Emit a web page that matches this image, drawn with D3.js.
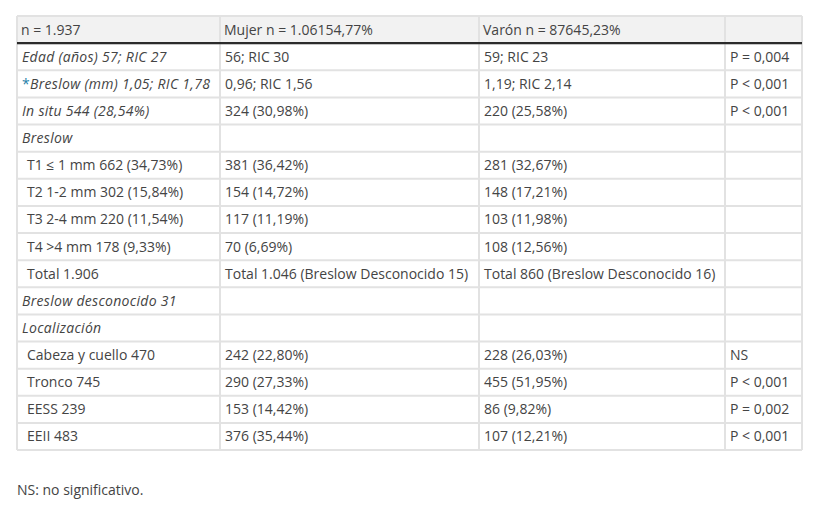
<!DOCTYPE html>
<html><head><meta charset="utf-8">
<script src="https://cdn.jsdelivr.net/npm/d3@7"></script>
<style>
html,body{margin:0;padding:0;background:#fff;}
svg text{font-family:"Open Sans",sans-serif;}
</style></head>
<body>
<svg id="c" width="821" height="512"></svg>
<script>
const headers = ["n = 1.937", "Mujer n = 1.06154,77%", "Varón n = 87645,23%", ""];
const labels = ["Edad (años) 57; RIC 27", "Breslow (mm) 1,05; RIC 1,78", "In situ 544 (28,54%)", "Breslow",
  "T1 ≤ 1 mm 662 (34,73%)", "T2 1-2 mm 302 (15,84%)", "T3 2-4 mm 220 (11,54%)", "T4 >4 mm 178 (9,33%)",
  "Total 1.906", "Breslow desconocido 31", "Localización", "Cabeza y cuello 470", "Tronco 745", "EESS 239", "EEII 483"];
const rowKind = ["group","group","group","group","item","item","item","item","item","group","group","item","item","item","item"];
const starred = [false,true,false,false,false,false,false,false,false,false,false,false,false,false,false];
const mujer = ["56; RIC 30", "0,96; RIC 1,56", "324 (30,98%)", "", "381 (36,42%)", "154 (14,72%)", "117 (11,19%)", "70 (6,69%)",
  "Total 1.046 (Breslow Desconocido 15)", "", "", "242 (22,80%)", "290 (27,33%)", "153 (14,42%)", "376 (35,44%)"];
const varon = ["59; RIC 23", "1,19; RIC 2,14", "220 (25,58%)", "", "281 (32,67%)", "148 (17,21%)", "103 (11,98%)", "108 (12,56%)",
  "Total 860 (Breslow Desconocido 16)", "", "", "228 (26,03%)", "455 (51,95%)", "86 (9,82%)", "107 (12,21%)"];
const pvals = ["P = 0,004", "P < 0,001", "P < 0,001", "", "", "", "", "", "", "", "", "NS", "P < 0,001", "P = 0,002", "P < 0,001"];
const footnote = "NS: no significativo.";

const svg = d3.select("#c");
const colEdges = [17, 220, 479, 725, 802];
const nRows = labels.length + 1;
const y = d3.scaleBand().domain(d3.range(nRows)).range([16, 450]).padding(0);
const fs = 14, txtColor = "#444", lineColor = "#e2e2e2";

svg.append("rect").attr("x", colEdges[0]).attr("y", y(0)).attr("width", colEdges[4]-colEdges[0])
  .attr("height", y.bandwidth()).attr("fill", "#f2f2f2");

const g = svg.append("g");
g.selectAll("line.h").data(d3.range(nRows + 1)).join("line")
  .attr("x1", colEdges[0]).attr("x2", colEdges[4])
  .attr("y1", i => i === nRows ? y.range()[1] : y(i))
  .attr("y2", i => i === nRows ? y.range()[1] : y(i))
  .attr("stroke", lineColor).attr("stroke-width", 2);
g.selectAll("line.v").data(colEdges).join("line")
  .attr("x1", d => d).attr("x2", d => d)
  .attr("y1", y(0)).attr("y2", y.range()[1])
  .attr("stroke", lineColor).attr("stroke-width", 2);
svg.append("line").attr("x1", colEdges[0]).attr("x2", colEdges[4])
  .attr("y1", y(1)).attr("y2", y(1)).attr("stroke", "#2b2b2b").attr("stroke-width", 2.2);

svg.selectAll("text.hd").data(headers).join("text")
  .attr("x", (d, i) => colEdges[i] + 4).attr("y", y(0) + y.bandwidth()/2 + 5)
  .attr("font-size", fs).attr("fill", txtColor).text(d => d);

const rows = labels.map((l, i) => ({l, kind: rowKind[i], star: starred[i], m: mujer[i], v: varon[i], p: pvals[i], r: i + 1}));
const rg = svg.selectAll("g.row").data(rows).join("g")
  .attr("transform", d => `translate(0,${y(d.r) + y.bandwidth()/2 + 5})`);
const lab = rg.append("text")
  .attr("x", d => colEdges[0] + (d.kind === "item" ? 10 : 5))
  .attr("font-size", fs).attr("fill", txtColor)
  .attr("font-style", d => d.kind === "group" ? "italic" : "normal")
  .attr("letter-spacing", d => d.kind === "group" ? 0.3 : 0);
lab.filter(d => d.star).append("tspan").attr("fill", "#1f7fa8").attr("font-style", "normal").text("*");
lab.append("tspan").text(d => d.l);
rg.append("text").attr("x", colEdges[1] + 5).attr("font-size", fs).attr("fill", txtColor).text(d => d.m);
rg.append("text").attr("x", colEdges[2] + 5).attr("font-size", fs).attr("fill", txtColor).text(d => d.v);
rg.append("text").attr("x", colEdges[3] + 5).attr("font-size", fs).attr("fill", txtColor).text(d => d.p);

svg.append("text").attr("x", 17).attr("y", 495).attr("font-size", fs).attr("fill", txtColor).text(footnote);
</script>
</body></html>
